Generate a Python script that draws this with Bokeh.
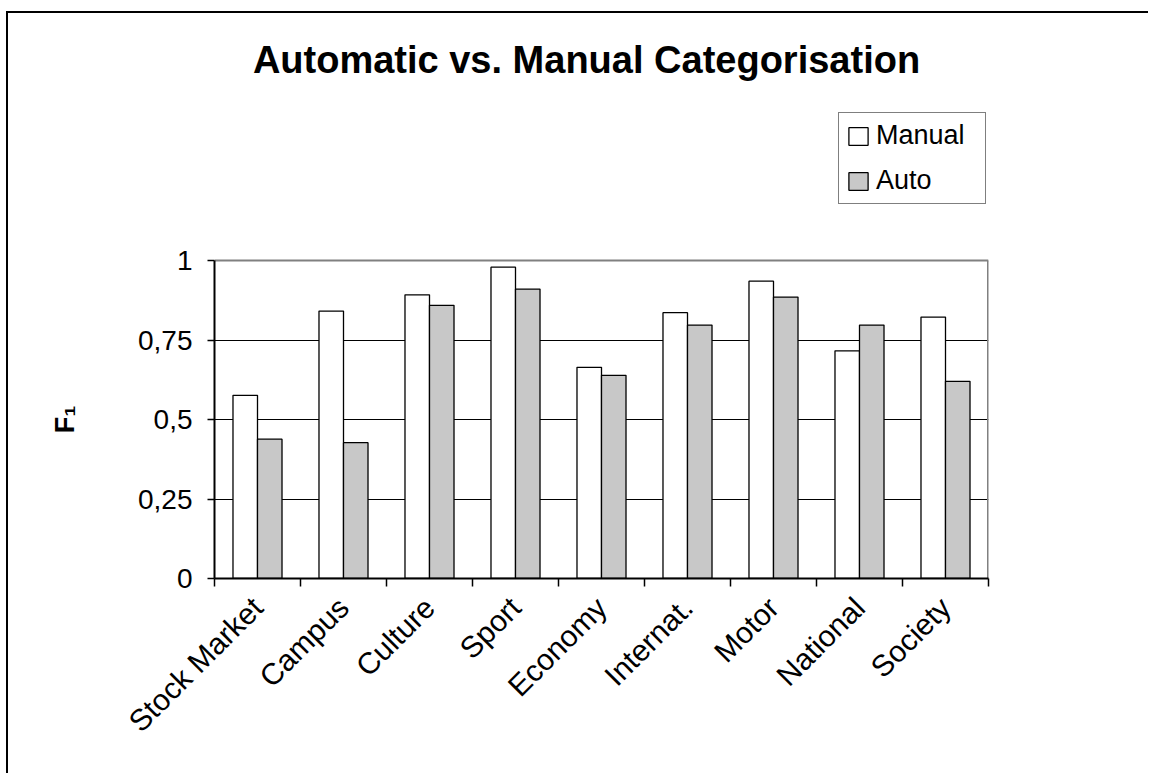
import math
from bokeh.plotting import figure
from bokeh.models import (Range1d, FixedTicker, Label, Legend, LegendItem, Grid,
                          LinearAxis)
from bokeh.embed import file_html
from bokeh.resources import INLINE

categories = ["Stock Market", "Campus", "Culture", "Sport", "Economy",
              "Internat.", "Motor", "National", "Society"]
manual = [0.576, 0.841, 0.892, 0.979, 0.664, 0.836, 0.935, 0.716, 0.822]
auto = [0.438, 0.427, 0.859, 0.910, 0.639, 0.797, 0.885, 0.797, 0.620]
y_ticks = [0, 0.25, 0.5, 0.75, 1]
y_tick_labels = ["0", "0,25", "0,5", "0,75", "1"]
title_text = "Automatic vs. Manual Categorisation"
y_label = "F\u2081"

FONT = "Liberation Sans"
# canvas placed at window (8, 13) by the CSS border/margin below
OX, OY = 8, 13
W, H = 1150 - OX, 775 - OY
# plot area in window pixels
PL, PR, PT1, PB = 214, 988, 260, 578   # PT1: pixel of y=1
FRAME_TOP = 30                          # frame extends up to hold title/legend
px_per_unit = PB - PT1
y_max = (PB - FRAME_TOP) / px_per_unit
n = len(categories)

p = figure(width=W, height=H, output_backend="svg", toolbar_location=None,
           x_range=Range1d(0, n), y_range=Range1d(0, y_max),
           min_border_left=PL - OX, min_border_right=W - (PR - OX),
           min_border_top=FRAME_TOP - OY, min_border_bottom=H - (PB - OY))
p.background_fill_color = "white"
p.border_fill_color = "white"
p.outline_line_color = None

centers = [i + 0.5 for i in range(n)]
bw = 0.285
r_man = p.vbar(x=[c - bw / 2 for c in centers], top=manual, width=bw, bottom=0,
               fill_color="white", line_color="black", line_width=1.3)
r_auto = p.vbar(x=[c + bw / 2 for c in centers], top=auto, width=bw, bottom=0,
                fill_color="#c8c8c8", line_color="black", line_width=1.3)

# grid
p.xgrid.visible = False
p.ygrid.ticker = FixedTicker(ticks=y_ticks[1:-1])
p.ygrid.grid_line_color = "black"
p.ygrid.grid_line_width = 1.2
p.ygrid.level = "underlay"
top_border = Grid(dimension=1, ticker=FixedTicker(ticks=[y_ticks[-1]]),
                  grid_line_color="#808080", grid_line_width=2)
p.add_layout(top_border)
# right border of plot area
p.line(x=[n, n], y=[y_ticks[0], y_ticks[-1]], line_color="#808080", line_width=3)

# y axis
ya = p.yaxis[0]
ya.bounds = (y_ticks[0], y_ticks[-1])
ya.ticker = FixedTicker(ticks=y_ticks)
ya.major_label_overrides = {t: l for t, l in zip(y_ticks, y_tick_labels)}
ya.major_label_text_font = FONT
ya.major_label_text_font_size = "28px"
ya.major_label_text_color = "black"
ya.major_tick_out = 7
ya.major_tick_in = 0
ya.minor_tick_out = 0
ya.minor_tick_in = 0
ya.major_tick_line_color = "black"
ya.major_tick_line_width = 1.5
ya.axis_line_color = "black"
ya.axis_line_width = 2
ya.major_label_standoff = 15

# y axis title "F1", centred on the 0..1 span (second, label-only axis)
mid = (y_ticks[0] + y_ticks[-1]) / 2
ylab_axis = LinearAxis(ticker=FixedTicker(ticks=[mid]),
                       major_label_overrides={mid: y_label},
                       major_label_orientation="parallel",
                       major_label_text_font=FONT,
                       major_label_text_font_style="bold",
                       major_label_text_font_size="27px",
                       major_label_text_color="black",
                       major_label_standoff=56,
                       major_tick_out=0, major_tick_in=0,
                       minor_tick_out=0, minor_tick_in=0,
                       axis_line_color=None)
p.add_layout(ylab_axis, "left")

# x axis
xa = p.xaxis[0]
xa.ticker = FixedTicker(ticks=centers, minor_ticks=list(range(n + 1)))
xa.major_label_overrides = {c: nm for c, nm in zip(centers, categories)}
xa.major_label_orientation = math.pi / 4
xa.major_label_text_font = FONT
xa.major_label_text_font_size = "30px"
xa.major_label_text_color = "black"
xa.major_tick_out = 0
xa.major_tick_in = 0
xa.minor_tick_out = 8
xa.minor_tick_in = 0
xa.minor_tick_line_color = "black"
xa.minor_tick_line_width = 1.5
xa.axis_line_color = "black"
xa.axis_line_width = 2
xa.major_label_standoff = 16

# title (screen units are measured from the frame's bottom-left corner)
p.add_layout(Label(x=586 - PL, y=PB - 59, x_units="screen", y_units="screen",
                   text=title_text, text_font=FONT, text_font_style="bold",
                   text_font_size="38px", text_align="center",
                   text_baseline="alphabetic", text_color="black"))

# legend
LEG_L, LEG_B = 838, 204
legend = Legend(items=[LegendItem(label="Manual", renderers=[r_man]),
                       LegendItem(label="Auto", renderers=[r_auto])],
                location=(LEG_L - PL, PB - LEG_B))
legend.label_text_font = FONT
legend.label_text_font_size = "27px"
legend.label_text_color = "black"
legend.glyph_width = 24
legend.glyph_height = 22
legend.label_standoff = 6
legend.label_width = 102
legend.label_height = 30
legend.padding = 7
legend.spacing = 14
legend.margin = 0
legend.border_line_color = "black"
legend.border_line_width = 1.5
legend.background_fill_alpha = 1
p.add_layout(legend)

p.styles = {"border-left": "2px solid black", "border-top": "2px solid black",
            "margin-left": f"{OX - 2}px", "margin-top": f"{OY - 2}px"}

open("out.html", "w").write(file_html(p, INLINE))
